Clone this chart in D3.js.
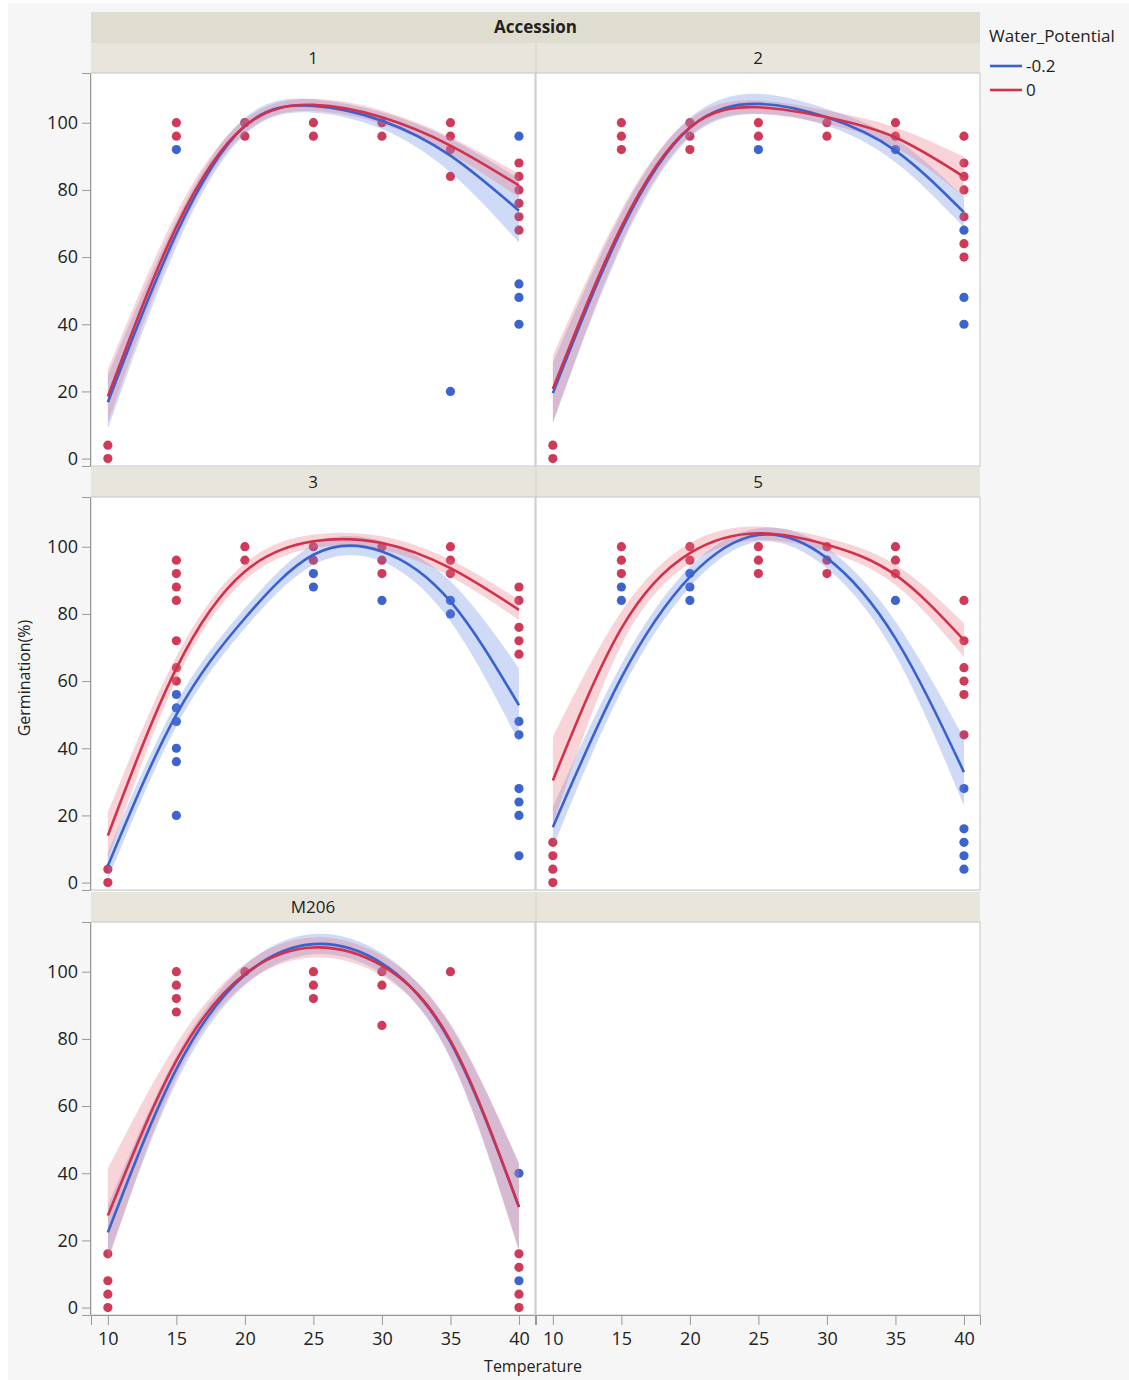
<!DOCTYPE html>
<html>
<head>
<meta charset="utf-8">
<script src="https://cdn.jsdelivr.net/npm/d3@7"></script>
<style>
  body { margin: 0; background: #ffffff; }
  text { font-family: "Open Sans", "Noto Sans", sans-serif; fill: #222; }
</style>
</head>
<body>
<div id="chart"></div>
<script>
const temps = [10, 15, 20, 25, 30, 35, 40];
const accessions = ['1', '2', '3', '5', 'M206'];
const waterPotentials = ['-0.2', '0'];
const xTicks = [10, 15, 20, 25, 30, 35, 40];
const yTicks = [0, 20, 40, 60, 80, 100];

// fitted curve (mean) and half width of the confidence band, per accession
const fit1Neg = [16.8, 67, 99, 105, 100.6, 90.2, 73.8];
const hw1Neg = [8, 4, 2.5, 2, 2.5, 5, 9.5];
const fit1Zero = [18.5, 69, 99, 105.3, 101.6, 93.2, 81.3];
const hw1Zero = [8, 4, 2, 1.8, 2, 2.5, 3.5];

const fit2Neg = [19.5, 68, 98.5, 105.6, 101.6, 91.7, 73.3];
const hw2Neg = [9, 5, 3, 3, 2.5, 3.5, 4.5];
const fit2Zero = [20.7, 69, 98.6, 104.6, 101.6, 95.6, 83.9];
const hw2Zero = [10, 5, 2.5, 2, 2, 3, 6];

const fit3Neg = [5, 50, 78.7, 97.6, 98.6, 83.7, 52.8];
const hw3Neg = [4, 3.5, 3, 3, 3, 6, 11];
const fit3Zero = [14, 63.8, 92.6, 101.6, 101.1, 93.6, 81.2];
const hw3Zero = [7, 3.5, 2.5, 2, 2, 2.5, 3];

const fit5Neg = [16.5, 61, 91, 103.5, 96.6, 72.7, 32.9];
const hw5Neg = [6, 4, 3, 2, 3, 5, 10];
const fit5Zero = [30.4, 75.7, 98.1, 104, 100.6, 91.6, 72.2];
const hw5Zero = [13, 5, 3, 2, 2, 3, 5];

const fitMNeg = [22.4, 71, 99, 108.2, 102.5, 79, 30];
const hwMNeg = [8, 4, 3, 3, 3, 5, 13];
const fitMZero = [27.4, 73.5, 99.3, 107.2, 101.8, 79.5, 29.9];
const hwMZero = [14, 5, 3, 3, 3, 5, 13];

// observed germination [temperature, %]
const pts1Neg = [[15,92],[20,100],[35,20],[40,96],[40,52],[40,48],[40,40]];
const pts1Zero = [[10,0],[10,4],[15,100],[15,96],[20,100],[20,96],[25,100],[25,96],[30,100],[30,96],
  [35,100],[35,96],[35,92],[35,84],[40,88],[40,84],[40,80],[40,76],[40,72],[40,68]];
const pts2Neg = [[25,92],[35,92],[40,68],[40,48],[40,40]];
const pts2Zero = [[10,0],[10,4],[15,100],[15,96],[15,92],[20,100],[20,96],[20,92],[25,100],[25,96],
  [30,100],[30,96],[35,100],[35,96],[40,96],[40,88],[40,84],[40,80],[40,72],[40,64],[40,60]];
const pts3Neg = [[15,56],[15,52],[15,48],[15,40],[15,36],[15,20],[25,92],[25,88],[30,84],[35,84],[35,80],
  [40,48],[40,44],[40,28],[40,24],[40,20],[40,8]];
const pts3Zero = [[10,0],[10,4],[15,96],[15,92],[15,88],[15,84],[15,72],[15,64],[15,60],[20,100],[20,96],
  [25,100],[25,96],[30,100],[30,96],[30,92],[35,100],[35,96],[35,92],[40,88],[40,84],[40,76],[40,72],[40,68]];
const pts5Neg = [[15,88],[15,84],[20,92],[20,88],[20,84],[35,84],[40,28],[40,16],[40,12],[40,8],[40,4]];
const pts5Zero = [[10,12],[10,8],[10,4],[10,0],[15,100],[15,96],[15,92],[20,100],[20,96],[25,100],[25,96],[25,92],
  [30,100],[30,96],[30,92],[35,100],[35,96],[35,92],[40,84],[40,72],[40,64],[40,60],[40,56],[40,44]];
const ptsMNeg = [[40,40],[40,8]];
const ptsMZero = [[10,16],[10,8],[10,4],[10,0],[15,100],[15,96],[15,92],[15,88],[20,100],[25,100],[25,96],[25,92],
  [30,100],[30,96],[30,84],[35,100],[40,16],[40,12],[40,4],[40,0]];

const panels = [
  { name: '1', fits: [fit1Neg, fit1Zero], hws: [hw1Neg, hw1Zero], pts: [pts1Neg, pts1Zero] },
  { name: '2', fits: [fit2Neg, fit2Zero], hws: [hw2Neg, hw2Zero], pts: [pts2Neg, pts2Zero] },
  { name: '3', fits: [fit3Neg, fit3Zero], hws: [hw3Neg, hw3Zero], pts: [pts3Neg, pts3Zero] },
  { name: '5', fits: [fit5Neg, fit5Zero], hws: [hw5Neg, hw5Zero], pts: [pts5Neg, pts5Zero] },
  { name: 'M206', fits: [fitMNeg, fitMZero], hws: [hwMNeg, hwMZero], pts: [ptsMNeg, ptsMZero] }
];

const lineColor = ['#3a62ce', '#d3304b'];
const dotColor = ['#3d63cf', '#cf3a58'];
const bandColor = ['#5f85e0', '#e8707f'];

const W = 1129, H = 1380;
const colX = [91, 536];
const plotW = 444;
const rowHeadY = [43, 467, 892];
const headH = 30;
const plotH = 393;

const svg = d3.select('#chart')
  .append('svg')
  .attr('width', W)
  .attr('height', H);

svg.append('rect').attr('x', 8).attr('y', 3).attr('width', W - 8).attr('height', H - 3).attr('fill', '#f6f6f6');

const xScale = d3.scaleLinear().domain([8.77, 41.17]).range([0, plotW]);
const yScale = d3.scaleLinear().domain([-2.2, 114.8]).range([plotH, 0]);

// top "Accession" header
svg.append('rect').attr('x', colX[0]).attr('y', 12).attr('width', colX[1] + plotW - colX[0]).attr('height', 31)
  .attr('fill', '#dfddd0');
svg.append('text').attr('x', (colX[0] + colX[1] + plotW) / 2).attr('y', 33)
  .attr('text-anchor', 'middle').attr('font-size', '17px').attr('font-weight', 'bold').text('Accession');

const line = d3.line().x(d => xScale(d[0])).y(d => yScale(d[1])).curve(d3.curveNatural);
const area = d3.area().x(d => xScale(d[0])).y0(d => yScale(d[1] - d[2])).y1(d => yScale(d[1] + d[2]))
  .curve(d3.curveNatural);

for (let r = 0; r < 3; r++) {
  // header band across the row
  svg.append('rect').attr('x', colX[0]).attr('y', rowHeadY[r]).attr('width', colX[1] + plotW - colX[0])
    .attr('height', headH).attr('fill', '#e8e6dc');
  svg.append('line').attr('x1', colX[1]).attr('x2', colX[1]).attr('y1', rowHeadY[r]).attr('y2', rowHeadY[r] + headH)
    .attr('stroke', '#d6d4c8');
  for (let c = 0; c < 2; c++) {
    const g = svg.append('g').attr('transform', `translate(${colX[c]},${rowHeadY[r] + headH})`);
    g.append('rect').attr('width', plotW).attr('height', plotH).attr('fill', '#fff')
      .attr('stroke', '#c4c4c4');
  }
  // y axis on the left
  const ya = svg.append('g').attr('transform', `translate(${colX[0] - 1},${rowHeadY[r] + headH})`);
  ya.call(d3.axisLeft(yScale).tickValues(d3.range(10, 111, 20)).tickSize(5).tickFormat(''));
  ya.call(d3.axisLeft(yScale).tickValues(yTicks).tickSize(8).tickPadding(4));
  ya.selectAll('.domain').attr('stroke', '#999');
  ya.selectAll('.tick line').attr('stroke', '#999');
  ya.selectAll('text').attr('font-size', '18px').attr('fill', '#222')
    .attr('font-family', '"Open Sans", "Noto Sans", sans-serif');
}

panels.forEach((p, i) => {
  const r = Math.floor(i / 2), c = i % 2;
  const top = rowHeadY[r];
  svg.append('text').attr('x', colX[c] + plotW / 2).attr('y', top + 21).attr('text-anchor', 'middle')
    .attr('font-size', '17px').text(p.name);

  const g = svg.append('g').attr('transform', `translate(${colX[c]},${top + headH})`);

  // points
  [0, 1].forEach(s => {
    g.selectAll('.dot' + s)
      .data(p.pts[s])
      .enter()
      .append('circle')
      .attr('cx', d => xScale(d[0]))
      .attr('cy', d => yScale(d[1]))
      .attr('r', 4.6)
      .attr('fill', dotColor[s]);
  });

  // confidence bands
  [0, 1].forEach(s => {
    const rows = temps.map((t, k) => [t, p.fits[s][k], p.hws[s][k]]);
    g.append('path').attr('d', area(rows)).attr('fill', bandColor[s]).attr('fill-opacity', 0.3);
  });

  // fitted lines
  [0, 1].forEach(s => {
    const rows = temps.map((t, k) => [t, p.fits[s][k]]);
    g.append('path').attr('d', line(rows)).attr('fill', 'none').attr('stroke', lineColor[s])
      .attr('stroke-width', 2.6);
  });
});

// x axes under the bottom row
[0, 1].forEach(c => {
  const xa = svg.append('g').attr('transform', `translate(${colX[c]},${rowHeadY[2] + headH + plotH})`);
  xa.call(d3.axisBottom(xScale).tickValues(d3.range(12.5, 40, 5)).tickSize(6).tickFormat(''));
  xa.call(d3.axisBottom(xScale).tickValues(xTicks).tickSize(10).tickPadding(7));
  xa.selectAll('.domain').attr('stroke', '#999');
  xa.selectAll('.tick line').attr('stroke', '#999');
  xa.selectAll('text').attr('font-size', '18px').attr('fill', '#222')
    .attr('font-family', '"Open Sans", "Noto Sans", sans-serif');
});

svg.append('text').attr('x', 533).attr('y', 1372).attr('text-anchor', 'middle')
  .attr('font-size', '16px').text('Temperature');

svg.append('text').attr('transform', 'translate(30,678) rotate(-90)').attr('text-anchor', 'middle')
  .attr('font-size', '16px').text('Germination(%)');

// legend
svg.append('text').attr('x', 989).attr('y', 42).attr('font-size', '17px').text('Water_Potential');
waterPotentials.forEach((w, s) => {
  const y = 66 + s * 24;
  svg.append('line').attr('x1', 990).attr('x2', 1022).attr('y1', y).attr('y2', y)
    .attr('stroke', lineColor[s]).attr('stroke-width', 2.6);
  svg.append('text').attr('x', 1026).attr('y', y + 6).attr('font-size', '17px').text(w);
});
</script>
</body>
</html>
